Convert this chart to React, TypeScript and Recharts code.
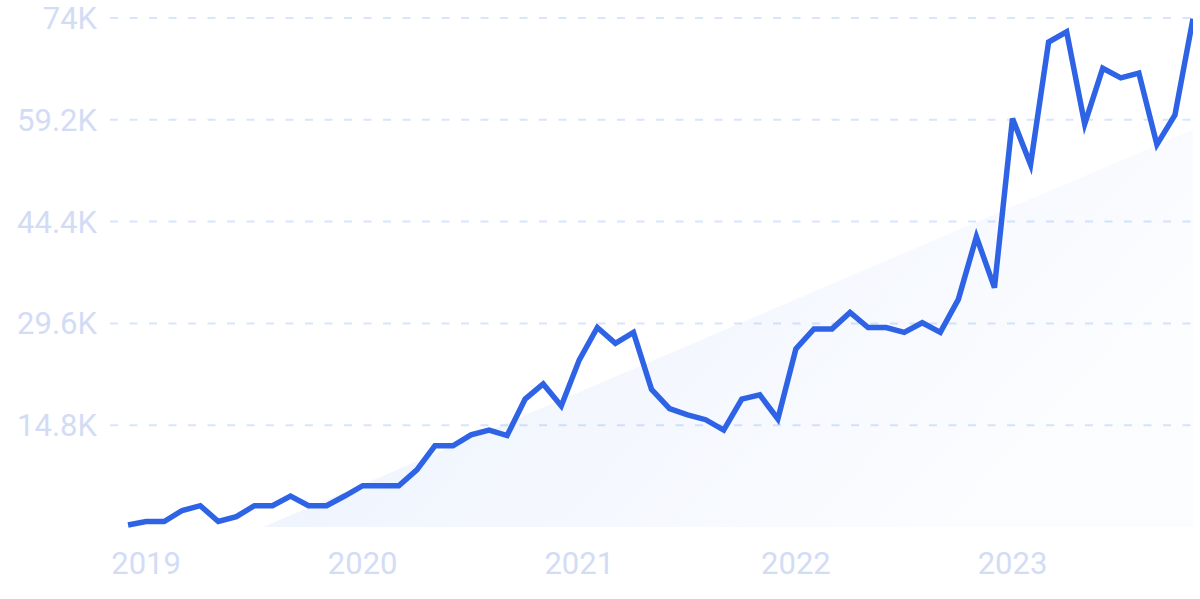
import React from 'react';
import { ComposedChart, Line, Area, XAxis, YAxis, CartesianGrid } from 'recharts';

// monthly search volume, Dec 2018 .. Nov 2023
const searchVolume = [
  300, 800, 800, 2400, 3100, 800, 1500, 3100, 3100, 4500,
  3100, 3100, 4500, 6000, 6000, 6000, 8300, 11800, 11800, 13400,
  14100, 13300, 18600, 20800, 17600, 24300, 29000, 26700, 28300, 20000,
  17200, 16300, 15600, 14100, 18600, 19200, 15700, 25900, 28800, 28800,
  31200, 29000, 29000, 28300, 29700, 28300, 33100, 42200, 34800, 59400,
  52700, 70500, 72000, 58600, 66700, 65300, 66000, 55600, 59900, 73900,
];

const yearLabels = ['2019', '2020', '2021', '2022', '2023'];
const yearTicks = [1, 13, 25, 37, 49];

const yTicks = [14800, 29600, 44400, 59200, 74000];
const yTickLabels = ['14.8K', '29.6K', '44.4K', '59.2K', '74K'];

// trend band: starts at zero and ends at the last month
const trendAt = [7.5, 59];
const trendValues = [0, 57800];

const volumeData = searchVolume.map((v, i) => ({ idx: i, volume: v }));
const trendData = trendAt.map((idx, i) => ({ idx, trend: trendValues[i] }));

const tickStyle = { fill: '#d3dcf5', fontSize: 31, fontFamily: 'Roboto' };

export default function App() {
  return (
    <div style={{ position: 'absolute', left: 0, top: 0, width: 1200, height: 599, background: '#fff' }}>
      <ComposedChart width={1200} height={599} margin={{ top: 18, right: 7, bottom: 12, left: 0 }}>
        <defs>
          <linearGradient id="trendFill" x1="0" y1="0" x2="1" y2="0.4">
            <stop offset="0%" stopColor="#2f6fe8" stopOpacity={0.17} />
            <stop offset="100%" stopColor="#2f6fe8" stopOpacity={0.03} />
          </linearGradient>
        </defs>
        <CartesianGrid
          vertical={false}
          horizontalValues={yTicks}
          stroke="#d8e5fc"
          strokeWidth={2}
          strokeDasharray="8 11.5"
        />
        <XAxis
          dataKey="idx"
          type="number"
          domain={[-1, 59]}
          ticks={yearTicks}
          tickFormatter={(v: number) => yearLabels[yearTicks.indexOf(v)]}
          axisLine={false}
          tickLine={false}
          tickSize={0}
          tickMargin={25}
          height={60}
          tick={tickStyle}
          allowDataOverflow
        />
        <YAxis
          type="number"
          domain={[0, 74000]}
          ticks={yTicks}
          tickFormatter={(v: number) => yTickLabels[yTicks.indexOf(v)]}
          axisLine={false}
          tickLine={false}
          tickSize={0}
          tickMargin={13}
          width={110}
          tick={tickStyle}
        />
        <Area
          data={trendData}
          dataKey="trend"
          type="linear"
          stroke="none"
          fill="url(#trendFill)"
          isAnimationActive={false}
        />
        <Line
          data={volumeData}
          dataKey="volume"
          type="linear"
          stroke="#2f63e6"
          strokeWidth={5.5}
          dot={false}
          activeDot={false}
          isAnimationActive={false}
        />
      </ComposedChart>
    </div>
  );
}
